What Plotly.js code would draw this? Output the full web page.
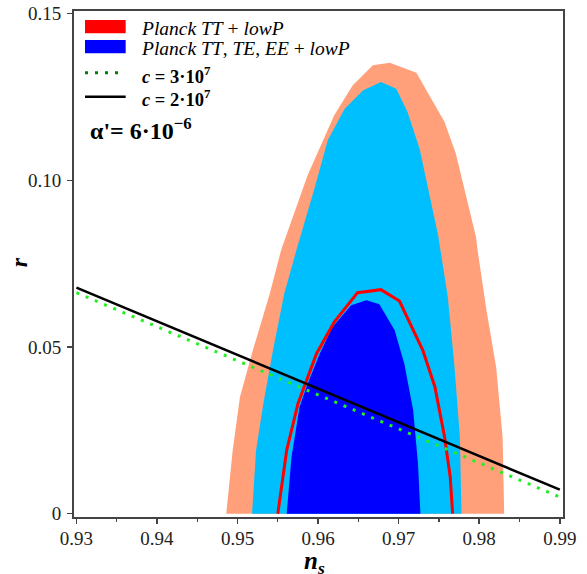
<!DOCTYPE html>
<html><head><meta charset="utf-8">
<script src="https://cdn.plot.ly/plotly-3.0.1.min.js"></script>
<style>html,body{margin:0;padding:0;background:#fff;}#chart{width:587px;height:574px;}</style>
</head><body><div id="chart"></div>
<script>
// Planck TT + lowP, 95% region (outer, salmon)
var tt95_ns = [0.9486,0.9494,0.9503,0.9519,0.9540,0.9554,0.9587,0.9620,0.9643,0.9668,0.9689,0.9722,0.9757,0.9771,0.9796,0.9798,0.9809,0.9821,0.9829,0.9831];
var tt95_r  = [0,0.0190,0.0350,0.0490,0.0660,0.0790,0.1015,0.1195,0.1285,0.1345,0.1353,0.1323,0.1175,0.1080,0.0830,0.0790,0.0610,0.0440,0.0230,0];
// Planck TT,TE,EE + lowP, 95% region (light blue)
var all95_ns = [0.9518,0.9523,0.9532,0.9544,0.9558,0.9573,0.9596,0.9612,0.9633,0.9656,0.9678,0.9697,0.9711,0.9726,0.9749,0.9761,0.9769,0.9776,0.9778];
var all95_r  = [0,0.0190,0.0330,0.0490,0.0660,0.0790,0.0980,0.1120,0.1215,0.1270,0.1295,0.1275,0.1205,0.1095,0.0835,0.0650,0.0450,0.0230,0];
// Planck TT,TE,EE + lowP, 68% region (dark blue)
var all68_ns = [0.9561,0.9567,0.9577,0.9587,0.9602,0.9618,0.9641,0.9660,0.9676,0.9695,0.9707,0.9718,0.9724,0.9727];
var all68_r  = [0,0.0170,0.0320,0.0390,0.0480,0.0560,0.0625,0.0640,0.0628,0.0550,0.0450,0.0310,0.0150,0];
// Planck TT + lowP, 68% region (red outline)
var tt68_ns = [0.9550,0.9561,0.9575,0.9598,0.9620,0.9649,0.9678,0.9701,0.9730,0.9745,0.9757,0.9764,0.9767];
var tt68_r  = [0,0.0190,0.0330,0.0480,0.0575,0.0663,0.0672,0.0638,0.0490,0.0380,0.0230,0.0110,0];
// model curves
var c2_ns = [0.93,0.99];
var c2_r  = [0.0678,0.0072];
var c3_ns = [0.93,0.99];
var c3_r  = [0.0663,0.0050];
// ticks
var xTickVals = [0.93,0.94,0.95,0.96,0.97,0.98,0.99];
var xTickText = ["0.93","0.94","0.95","0.96","0.97","0.98","0.99"];
var yTickVals = [0,0.05,0.10,0.15];
var yTickText = ["0","0.05","0.10","0.15"];

var FONT = "Liberation Serif, Times New Roman, serif";

var traces = [
  {x: tt95_ns, y: tt95_r, type:'scatter', mode:'lines', fill:'toself', fillcolor:'#FFA07A', line:{width:0, color:'#FFA07A'}, hoverinfo:'skip'},
  {x: all95_ns, y: all95_r, type:'scatter', mode:'lines', fill:'toself', fillcolor:'#00BFFF', line:{width:0, color:'#00BFFF'}, hoverinfo:'skip'},
  {x: all68_ns, y: all68_r, type:'scatter', mode:'lines', fill:'toself', fillcolor:'#0000FF', line:{width:0, color:'#0000FF'}, hoverinfo:'skip'},
  {x: tt68_ns, y: tt68_r, type:'scatter', mode:'lines', line:{width:3, color:'#FF0000'}, hoverinfo:'skip'},
  {x: c3_ns, y: c3_r, type:'scatter', mode:'lines', line:{width:3, color:'#22EE22', dash:'3px,7px'}, hoverinfo:'skip'},
  {x: c2_ns, y: c2_r, type:'scatter', mode:'lines', line:{width:2.5, color:'#000000'}, hoverinfo:'skip'}
];

var layout = {
  width:587, height:574,
  margin:{l:74, r:24, t:11, b:57},
  paper_bgcolor:'#fff', plot_bgcolor:'#fff',
  showlegend:false,
  font:{family:FONT, size:19, color:'#222'},
  xaxis:{range:[0.9297,0.9904], tickvals:xTickVals, ticktext:xTickText, ticks:'outside', ticklen:5, tickwidth:1.5, tickcolor:'#444',
         minor:{dtick:0.005, tick0:0.93, ticks:'outside', ticklen:3, tickwidth:1.2, tickcolor:'#444'},
         showline:true, mirror:true, linecolor:'#444', linewidth:2, showgrid:false, zeroline:false,
         tickfont:{family:FONT, size:19, color:'#222'}, ticklabelstandoff:-2},
  yaxis:{range:[-0.001,0.1508], tickvals:yTickVals, ticktext:yTickText, ticks:'outside', ticklen:5, tickwidth:1.5, tickcolor:'#444',
         showline:true, mirror:true, linecolor:'#444', linewidth:2, showgrid:false, zeroline:false,
         tickfont:{family:FONT, size:19, color:'#222'}, ticklabelstandoff:2},
  shapes:[
    {type:'rect', xref:'paper', yref:'paper', x0:0.0225, x1:0.1057, y0:0.956, y1:0.982, fillcolor:'#FF0000', line:{width:0}},
    {type:'rect', xref:'paper', yref:'paper', x0:0.0225, x1:0.1057, y0:0.9164, y1:0.9427, fillcolor:'#0000FF', line:{width:0}},
    {type:'line', xref:'paper', yref:'paper', x0:0.0225, x1:0.1, y0:0.878, y1:0.878, line:{color:'#008000', width:3, dash:'3px,7px'}},
    {type:'line', xref:'paper', yref:'paper', x0:0.0225, x1:0.1057, y0:0.8306, y1:0.8306, line:{color:'#000', width:2.5}}
  ],
  annotations:[
    {xref:'paper', yref:'paper', x:0.133, y:0.965, xanchor:'left', yanchor:'middle', showarrow:false,
     text:'<i>Planck TT</i> + <i>lowP</i>', font:{family:FONT, size:19.5, color:'#000'}},
    {xref:'paper', yref:'paper', x:0.133, y:0.926, xanchor:'left', yanchor:'middle', showarrow:false,
     text:'<i>Planck TT</i>, <i>TE</i>, <i>EE</i> + <i>lowP</i>', font:{family:FONT, size:19.5, color:'#000'}},
    {xref:'paper', yref:'paper', x:0.135, y:0.874, xanchor:'left', yanchor:'middle', showarrow:false,
     text:'<b><i>c</i> = 3·10<sup>7</sup></b>', font:{family:FONT, size:18.5, color:'#000'}},
    {xref:'paper', yref:'paper', x:0.135, y:0.828, xanchor:'left', yanchor:'middle', showarrow:false,
     text:'<b><i>c</i> = 2·10<sup>7</sup></b>', font:{family:FONT, size:18.5, color:'#000'}},
    {xref:'paper', yref:'paper', x:0.028, y:0.766, xanchor:'left', yanchor:'middle', showarrow:false,
     text:"<b>α'= 6·10<sup>−6</sup></b>", font:{family:FONT, size:24, color:'#000'}},
    {xref:'paper', yref:'paper', x:-0.112, y:0.504, xanchor:'center', yanchor:'middle', showarrow:false, textangle:-90,
     text:'<b><i>r</i></b>', font:{family:FONT, size:24, color:'#000'}},
    {xref:'paper', yref:'paper', x:0.492, y:-0.09, xanchor:'center', yanchor:'middle', showarrow:false,
     text:'<b><i>n</i></b><sub><b><i>s</i></b></sub>', font:{family:FONT, size:25, color:'#000'}}
  ]
};

Plotly.newPlot('chart', traces, layout, {displayModeBar:false, staticPlot:true});
</script>
</body></html>
